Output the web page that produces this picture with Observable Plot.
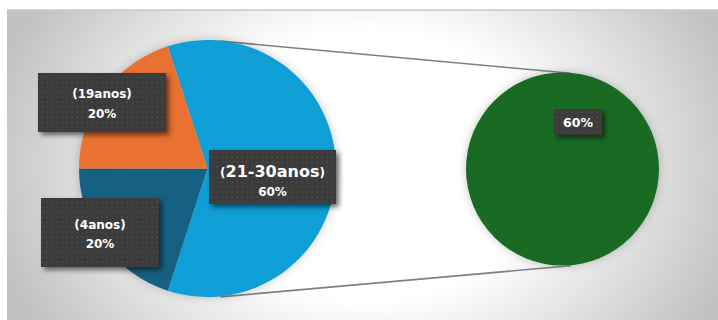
<!DOCTYPE html>
<html><head><meta charset="utf-8">
<script src="https://cdn.jsdelivr.net/npm/d3@7"></script>
<script src="https://cdn.jsdelivr.net/npm/@observablehq/plot@0.6"></script>
<style>
html,body{margin:0;padding:0;background:#fff;}
#chart{width:718px;height:320px;overflow:hidden;}
.boxes rect{filter:drop-shadow(3px 3px 2.5px rgba(0,0,0,0.55));}
</style></head><body><div id="chart"></div>
<script>
// ---- data ----
const categories = ["(21-30anos)", "(4anos)", "(19anos)"];
const values = [60, 20, 20];
const colors = ["#0F9ED5", "#156082", "#E97132"];
const secondCategories = ["(21-30anos)"];
const secondValues = [60];
const secondColors = ["#196B24"];

// ---- layout ----
const W = 718, H = 320;
const pie1 = {cx: 207.5, cy: 168.5, r: 128.5, start: -0.1 * Math.PI};
const pie2 = {cx: 562.5, cy: 169, r: 96.5, start: 0};
const connectorAngles = [[5.6, 4.5], [174.4, 175.5]]; // degrees clockwise from top: [pie1, pie2]
const labelLayout = [
  {x1: 209, y1: 150, x2: 336, y2: 204, l1: 171, l2: 192, big: true},
  {x1: 41, y1: 198, x2: 159, y2: 267, l1: 225, l2: 244},
  {x1: 38, y1: 73, x2: 166, y2: 132, l1: 94, l2: 114}
];
const label2Layout = {x1: 554, y1: 109, x2: 602, y2: 135, l1: 122};

const total = d3.sum(values);
const pct = v => Math.round(v / total * 100) + "%";

const idf = d => d;
function S(scales) {
  return {x: (scales && typeof scales.x === "function") ? scales.x : idf,
          y: (scales && typeof scales.y === "function") ? scales.y : idf};
}

function backgroundMark(index, scales) {
  const s = S(scales);
  const g = d3.create("svg:g");
  const defs = g.append("defs");
  const rg = defs.append("radialGradient").attr("id", "bgGrad")
    .attr("gradientUnits", "userSpaceOnUse").attr("cx", 0).attr("cy", 0).attr("r", 1)
    .attr("gradientTransform", `translate(${s.x(368)},${s.y(165)}) scale(385,300)`);
  rg.append("stop").attr("offset", 0).attr("stop-color", "#ffffff");
  rg.append("stop").attr("offset", 0.45).attr("stop-color", "#ffffff");
  rg.append("stop").attr("offset", 1).attr("stop-color", "#c2c2c2");
  const pat = defs.append("pattern").attr("id", "dots").attr("width", 5).attr("height", 5)
    .attr("patternUnits", "userSpaceOnUse");
  pat.append("rect").attr("width", 5).attr("height", 5).attr("fill", "#3b3b3b");
  pat.append("rect").attr("x", 1.5).attr("y", 1.5).attr("width", 1.4).attr("height", 1.4).attr("fill", "#4f4f4f");
  g.append("rect").attr("x", s.x(7)).attr("y", s.y(10)).attr("width", s.x(W) - s.x(7)).attr("height", s.y(H) - s.y(10))
    .attr("fill", "url(#bgGrad)");
  g.append("line").attr("x1", s.x(7)).attr("x2", s.x(W)).attr("y1", s.y(10)).attr("y2", s.y(10))
    .attr("stroke", "#c8c8c8").attr("stroke-width", 1.5);
  return g.node();
}

function pieMark(vals, cols, P) {
  return (index, scales) => {
    const s = S(scales);
    const cx = s.x(P.cx), cy = s.y(P.cy);
    const r = s.x(P.cx + P.r) - cx;
    const arcs = d3.pie().sort(null).startAngle(P.start).endAngle(P.start + 2 * Math.PI)(vals);
    const g = d3.create("svg:g").attr("transform", `translate(${cx},${cy})`)
      .style("filter", "drop-shadow(0px 0px 5px rgba(0,0,0,0.22))");
    g.selectAll("path").data(arcs).join("path")
      .attr("d", d3.arc().innerRadius(0).outerRadius(r))
      .attr("fill", (d, i) => cols[i]);
    return g.node();
  };
}

const rad = a => a * Math.PI / 180;
const connectors = connectorAngles.map(([a1, a2]) => ({
  x1: pie1.cx + pie1.r * Math.sin(rad(a1)), y1: pie1.cy - pie1.r * Math.cos(rad(a1)),
  x2: pie2.cx + pie2.r * Math.sin(rad(a2)), y2: pie2.cy - pie2.r * Math.cos(rad(a2))
}));

const boxes = labelLayout.concat([label2Layout]);

function textMark(index, scales) {
  const s = S(scales);
  const g = d3.create("svg:g").attr("fill", "#ffffff")
    .attr("font-family", "'DejaVu Sans', Verdana, sans-serif").attr("font-weight", "bold")
    .attr("text-anchor", "middle");
  categories.forEach((c, i) => {
    const L = labelLayout[i];
    const cx = (s.x(L.x1) + s.x(L.x2)) / 2;
    if (L.big) {
      const name = c.replace(/[()]/g, "");
      const t = g.append("text").attr("x", cx).attr("y", s.y(L.l1) + 5.8);
      t.append("tspan").attr("font-size", 12).text("(");
      t.append("tspan").attr("font-size", 16).text(name);
      t.append("tspan").attr("font-size", 12).text(")");
    } else {
      g.append("text").attr("x", cx).attr("y", s.y(L.l1) + 4.4).attr("font-size", 12).text(c);
    }
    g.append("text").attr("x", cx).attr("y", s.y(L.l2) + 4.4).attr("font-size", 12).text(pct(values[i]));
  });
  const cx2 = (s.x(label2Layout.x1) + s.x(label2Layout.x2)) / 2;
  g.append("text").attr("x", cx2).attr("y", s.y(label2Layout.l1) + 4.6).attr("font-size", 12.5)
    .text(pct(secondValues[0]));
  return g.node();
}

const chart = Plot.plot({
  width: W, height: H, margin: 0,
  x: {domain: [0, W], range: [0, W], axis: null},
  y: {domain: [0, H], range: [0, H], axis: null},
  style: {background: "transparent"},
  marks: [
    backgroundMark,
    Plot.link(connectors, {x1: "x1", y1: "y1", x2: "x2", y2: "y2", stroke: "#7f7f7f", strokeWidth: 1.6}),
    pieMark(values, colors, pie1),
    pieMark(secondValues, secondColors, pie2),
    Plot.rect(boxes, {x1: "x1", x2: "x2", y1: "y1", y2: "y2", fill: "url(#dots)", className: "boxes"}),
    textMark
  ]
});
document.getElementById("chart").appendChild(chart);
</script></body></html>
